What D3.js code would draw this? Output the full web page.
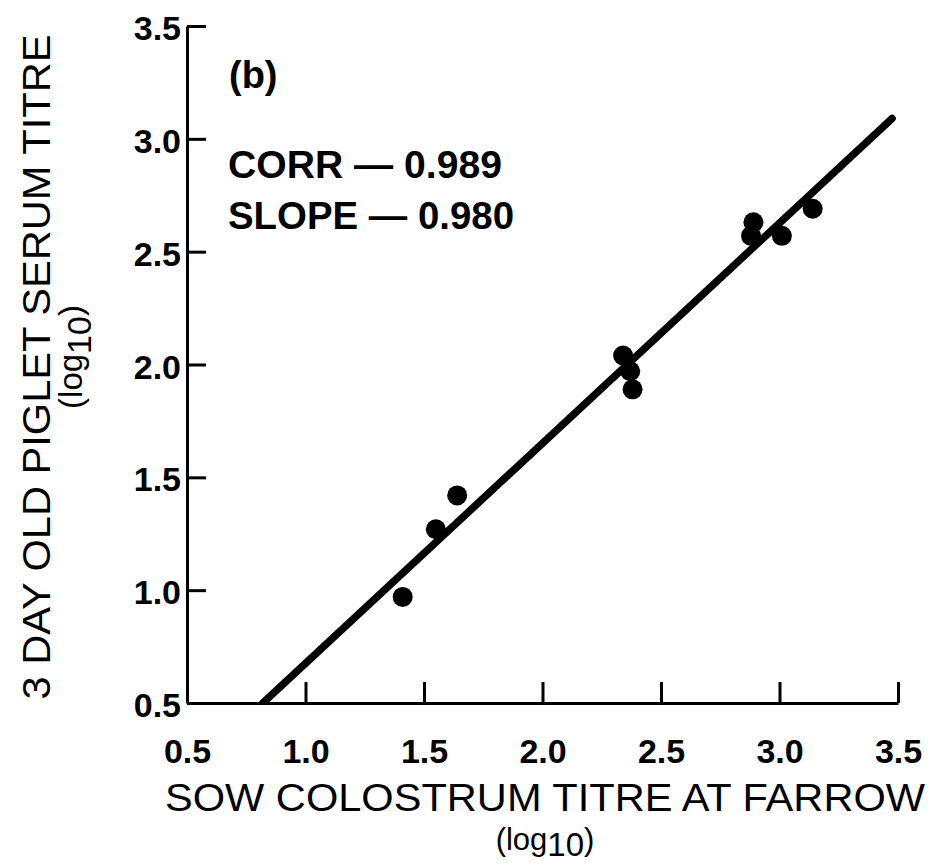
<!DOCTYPE html>
<html><head><meta charset="utf-8">
<script src="https://cdn.jsdelivr.net/npm/d3@7"></script>
<style>
html,body{margin:0;padding:0;background:#fff;}
text{font-family:"Liberation Sans",Arial,Helvetica,sans-serif;fill:#000;}
</style></head>
<body>
<svg id="chart" width="948" height="864"></svg>
<script>
// Data (log10 titres)
const sowTitre    = [1.41, 1.55, 1.64, 2.34, 2.37, 2.38, 2.88, 2.89, 3.01, 3.14];
const pigletTitre = [0.97, 1.27, 1.42, 2.04, 1.97, 1.89, 2.57, 2.63, 2.57, 2.69];
// Fitted regression line end points
const fitX = [0.82, 3.475];
const fitY = [0.50, 3.09];
const xTicks = [0.5, 1.0, 1.5, 2.0, 2.5, 3.0, 3.5];
const yTicks = [0.5, 1.0, 1.5, 2.0, 2.5, 3.0, 3.5];
const panelLabel = "(b)";
const statsLabels = ["CORR \u2014 0.989", "SLOPE \u2014 0.980"];
const xTitle = "SOW COLOSTRUM TITRE AT FARROW";
const yTitle = "3 DAY OLD PIGLET SERUM TITRE";

const svg = d3.select("#chart");
const x = d3.scaleLinear().domain([0.5, 3.5]).range([187, 898]);
const y = d3.scaleLinear().domain([0.5, 3.5]).range([703, 26]);

// Axes
const xAxis = d3.axisBottom(x).tickValues(xTicks).tickFormat(d3.format(".1f"))
  .tickSizeInner(-21).tickSizeOuter(0).tickPadding(36);
const yAxis = d3.axisLeft(y).tickValues(yTicks).tickFormat(d3.format(".1f"))
  .tickSizeInner(-19).tickSizeOuter(0).tickPadding(6);

const gx = svg.append("g").attr("transform", `translate(0,${y(0.5)})`).call(xAxis);
const gy = svg.append("g").attr("transform", `translate(${x(0.5)},0)`).call(yAxis);
[gx, gy].forEach(g => {
  g.select(".domain").attr("stroke", "#000").attr("stroke-width", 3);
  g.selectAll(".tick line").attr("stroke", "#000").attr("stroke-width", 3);
  g.selectAll(".tick text").attr("font-size", 34).attr("font-family", "Liberation Sans, Arial, sans-serif")
    .attr("font-weight", "bold").attr("fill", "#000");
});
gy.selectAll(".tick text").attr("dy", "0.4em");

// Regression line (clipped at x-axis)
svg.append("clipPath").attr("id", "clip").append("rect")
  .attr("x", x(0.5)).attr("y", 0).attr("width", 948).attr("height", y(0.5));
const fit = fitX.map((d, i) => [d, fitY[i]]);
svg.append("path")
  .datum(fit)
  .attr("clip-path", "url(#clip)")
  .attr("d", d3.line().x(d => x(d[0])).y(d => y(d[1])))
  .attr("stroke", "#000").attr("stroke-width", 7.5).attr("stroke-linecap", "round").attr("fill", "none");

// Points
svg.append("g").selectAll("circle")
  .data(sowTitre.map((d, i) => [d, pigletTitre[i]]))
  .join("circle")
  .attr("cx", d => x(d[0])).attr("cy", d => y(d[1])).attr("r", 10).attr("fill", "#000");

// Annotations
svg.append("text").attr("x", 229).attr("y", 88).attr("font-size", 38).attr("font-weight", "bold").text(panelLabel);
svg.selectAll("text.stat").data(statsLabels).join("text").attr("class", "stat")
  .attr("x", 228).attr("y", (d, i) => 178 + i * 51)
  .attr("font-size", 38).attr("font-weight", "bold").attr("textLength", (d, i) => i ? 286 : 274)
  .attr("lengthAdjust", "spacingAndGlyphs").text(d => d);

// X title
svg.append("text").attr("x", 545).attr("y", 811).attr("text-anchor", "middle")
  .attr("font-size", 38).attr("textLength", 760).attr("lengthAdjust", "spacingAndGlyphs").text(xTitle);
const xl = svg.append("text").attr("x", 545).attr("y", 850).attr("text-anchor", "middle").attr("font-size", 31);
xl.append("tspan").text("(log");
xl.append("tspan").attr("dy", 6).attr("font-size", 33).text("10");
xl.append("tspan").attr("dy", -6).text(")");

// Y title
svg.append("text").attr("transform", "translate(50,367) rotate(-90)").attr("text-anchor", "middle")
  .attr("font-size", 39).attr("textLength", 665).attr("lengthAdjust", "spacingAndGlyphs").text(yTitle);
const yl = svg.append("text").attr("transform", "translate(82,357) rotate(-90)").attr("text-anchor", "middle").attr("font-size", 33);
yl.append("tspan").text("(log");
yl.append("tspan").attr("dy", 9).attr("font-size", 34).text("10");
yl.append("tspan").attr("dy", -9).text(")");
</script>
</body></html>
